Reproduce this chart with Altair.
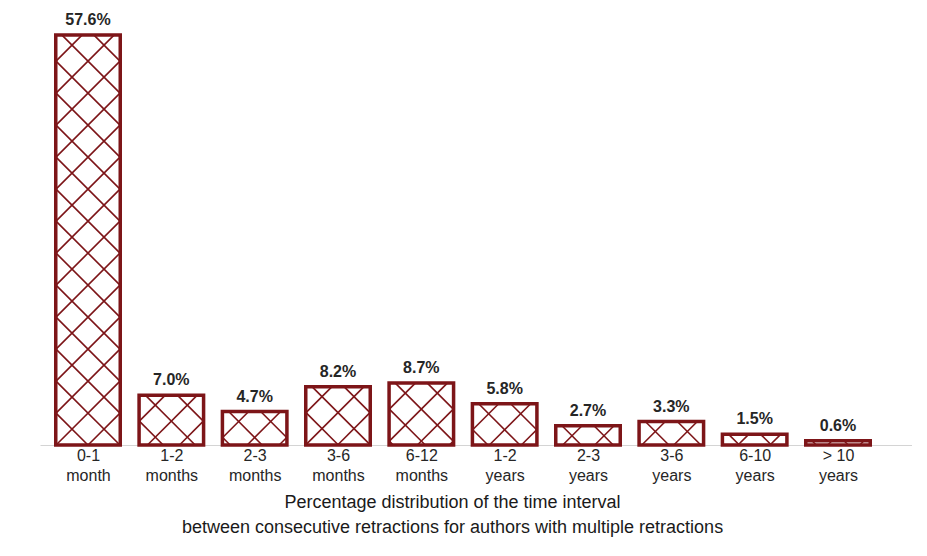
import json
import altair as alt
import pandas as pd

# ---- data ----
categories = ["0-1 month", "1-2 months", "2-3 months", "3-6 months", "6-12 months",
              "1-2 years", "2-3 years", "3-6 years", "6-10 years", "> 10 years"]
label_lines = [["0-1", "month"], ["1-2", "months"], ["2-3", "months"], ["3-6", "months"],
               ["6-12", "months"], ["1-2", "years"], ["2-3", "years"], ["3-6", "years"],
               ["6-10", "years"], ["> 10", "years"]]
percentages = [57.6, 7.0, 4.7, 8.2, 8.7, 5.8, 2.7, 3.3, 1.5, 0.6]
axis_title = ["Percentage distribution of the time interval",
              "between consecutive retractions for authors with multiple retractions"]

# ---- layout / style ----
W, H = 872, 427
X_DOM = [-0.576, 9.888]
Y_DOM = [0, 60]
HALF = 0.387
RED = "#7d1518"
FONT = "Liberation Sans"

df = pd.DataFrame({"idx": list(range(len(categories))), "cat": categories, "pct": percentages})

# hatch segments derived from each bar's value through the same linear scales
sx = W / (X_DOM[1] - X_DOM[0])
sy = H / (Y_DOM[1] - Y_DOM[0])
P = 32.0
segs = []
for i, v in zip(df["idx"], df["pct"]):
    u0 = (i - HALF - X_DOM[0]) * sx
    u1 = (i + HALF - X_DOM[0]) * sx
    h = v * sy
    uc = (u0 + u1) / 2
    pu, pv = uc - 16, h - 10
    # family A: v = u + c
    cA = pv - pu
    for k in range(-60, 61):
        c = cA + k * P
        lo, hi = max(u0, -c), min(u1, h - c)
        if hi - lo > 0.5:
            segs.append({"x": lo, "y": lo + c, "x2": hi, "y2": hi + c})
    # family B: v = -u + c
    cB = pv + pu
    for k in range(-60, 61):
        c = cB + k * P
        lo, hi = max(u0, c - h), min(u1, c)
        if hi - lo > 0.5:
            segs.append({"x": lo, "y": c - lo, "x2": hi, "y2": c - hi})
hatch = pd.DataFrame(segs)
for col in ("x", "x2"):
    hatch[col] = hatch[col] / sx + X_DOM[0]
for col in ("y", "y2"):
    hatch[col] = hatch[col] / sy

label_expr = json.dumps(label_lines).replace('"', "'") + "[datum.value]"

xscale = alt.Scale(domain=X_DOM, nice=False, zero=False)
yscale = alt.Scale(domain=Y_DOM, nice=False)

x_axis = alt.Axis(values=list(range(len(categories))), labelExpr=label_expr,
                  title=axis_title, grid=False, ticks=False, domain=True,
                  domainColor="#d4d4d4", domainWidth=1.2,
                  labelFont=FONT, labelFontSize=16, labelColor="#262626",
                  labelLineHeight=20, labelPadding=2, labelOverlap=False,
                  labelFlush=False, labelBound=False,
                  titleFont=FONT, titleFontSize=18, titleFontWeight="normal",
                  titleColor="#1a1a1a", titleLineHeight=25, titlePadding=10,
                  titleX=412, titleAnchor="start", titleAlign="center")

hatch_layer = alt.Chart(hatch).mark_rule(color=RED, strokeWidth=1.6).encode(
    x=alt.X("x:Q", scale=xscale, axis=x_axis),
    x2="x2:Q",
    y=alt.Y("y:Q", scale=yscale, axis=None),
    y2="y2:Q",
)

bars = alt.Chart(df).transform_calculate(
    x0=f"datum.idx - {HALF}", x1=f"datum.idx + {HALF}"
).mark_rect(fill="white", fillOpacity=0, stroke=RED, strokeWidth=3.5).encode(
    x=alt.X("x0:Q", scale=xscale),
    x2="x1:Q",
    y=alt.Y("pct:Q", scale=yscale, axis=None),
    y2=alt.datum(0),
)

texts = alt.Chart(df).transform_calculate(
    lab="format(datum.pct, '.1f') + '%'"
).mark_text(font=FONT, fontSize=16, fontWeight="bold", color="#262626",
            baseline="alphabetic", dy=-10).encode(
    x=alt.X("idx:Q", scale=xscale),
    y=alt.Y("pct:Q", scale=yscale, axis=None),
    text="lab:N",
)

chart = alt.layer(hatch_layer, bars, texts).properties(
    width=W, height=H,
    background="white",
    autosize=alt.AutoSizeParams(type="none"),
    padding={"left": 32, "top": 10, "right": 0, "bottom": 110},
).configure_view(stroke="transparent", strokeWidth=0)

chart.save("out.html", embed_options={"renderer": "svg", "actions": False})
